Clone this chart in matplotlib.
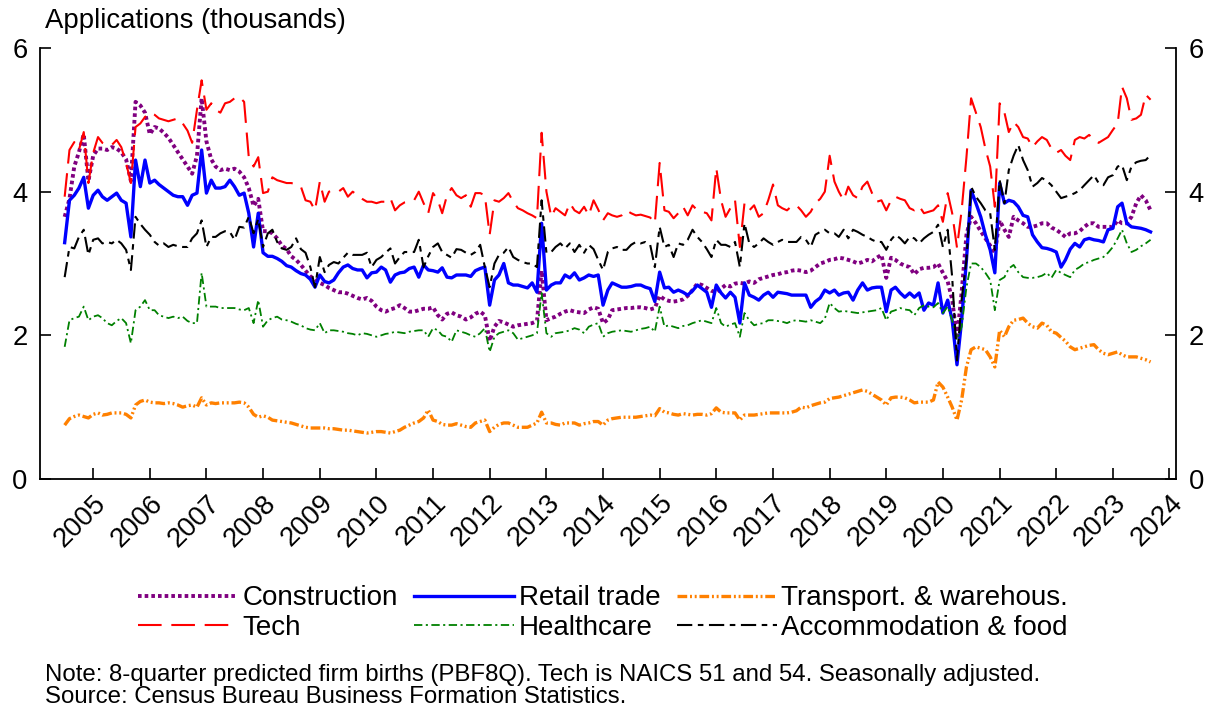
import matplotlib
matplotlib.use("Agg")
import matplotlib.pyplot as plt
import matplotlib.dates as mdates
import pandas as pd

plt.rcParams['font.family'] = ['Liberation Sans', 'DejaVu Sans']
plt.rcParams['lines.scale_dashes'] = False

# monthly values, Jul 2004 .. Sep 2023 (thousands of applications)
construction = [
    3.65, 3.9, 4.35, 4.55, 4.8, 4.15,
    4.5, 4.6, 4.6, 4.58, 4.62, 4.6, 4.55, 4.45, 4.15, 5.25, 5.2, 5.1,
    4.8, 4.9, 4.88, 4.82, 4.75, 4.65, 4.55, 4.45, 4.35, 4.25, 4.5, 5.3,
    4.7, 4.45, 4.35, 4.3, 4.32, 4.3, 4.32, 4.28, 4.2, 4.05, 3.8, 3.9,
    3.45, 3.45, 3.42, 3.35, 3.25, 3.2, 3.1, 3.05, 2.98, 2.9, 2.82, 2.78,
    2.73, 2.7, 2.66, 2.63, 2.6, 2.6, 2.58, 2.55, 2.52, 2.5, 2.52, 2.48,
    2.4, 2.35, 2.33, 2.36, 2.38, 2.42, 2.38, 2.33, 2.33, 2.35, 2.37, 2.37,
    2.39, 2.28, 2.22, 2.3, 2.32, 2.28, 2.26, 2.22, 2.25, 2.3, 2.33, 2.28,
    1.92, 2.12, 2.2, 2.18, 2.15, 2.12, 2.14, 2.15, 2.16, 2.17, 2.2, 2.9,
    2.21, 2.24, 2.26, 2.3, 2.33, 2.35, 2.33, 2.32, 2.31, 2.36, 2.39, 2.37,
    2.17, 2.22, 2.35, 2.36, 2.37, 2.38, 2.38, 2.39, 2.39, 2.38, 2.36, 2.38,
    2.55, 2.5, 2.48, 2.47, 2.48, 2.5, 2.55, 2.63, 2.72, 2.7, 2.66, 2.62,
    2.6, 2.65, 2.7, 2.68, 2.72, 2.73, 2.72, 2.75, 2.73, 2.78, 2.8, 2.82,
    2.84, 2.85, 2.87, 2.88, 2.9, 2.91, 2.9, 2.88, 2.9, 2.95, 3.0, 3.02,
    3.05, 3.06, 3.08, 3.07, 3.05, 3.03, 3.0, 3.02, 3.05, 3.03, 3.08, 3.12,
    2.8, 3.08, 3.05, 3.0, 2.97, 2.95, 2.85, 2.92, 2.94, 2.94, 2.95, 3.0,
    2.87, 2.75, 2.5, 1.95, 2.6, 3.4, 3.65, 3.56, 3.45, 3.35, 3.25, 3.15,
    3.6, 3.47, 3.37, 3.65, 3.6, 3.56, 3.51, 3.51, 3.53, 3.56, 3.56, 3.5,
    3.47, 3.42, 3.37, 3.42, 3.42, 3.45, 3.51, 3.56, 3.56, 3.51, 3.51, 3.51,
    3.51, 3.6, 3.56, 3.56, 3.65, 3.84, 3.95, 3.88, 3.74,
]
retail = [
    3.29, 3.88, 3.95, 4.05, 4.2, 3.77,
    3.95, 4.02, 3.93, 3.88, 3.93, 3.98, 3.88, 3.84, 3.37, 4.44, 4.07, 4.44,
    4.12, 4.16, 4.1, 4.05, 4.0, 3.95, 3.93, 3.93, 3.81, 3.95, 3.98, 4.58,
    3.98, 4.16, 4.05, 4.05, 4.07, 4.16, 4.07, 3.95, 3.98, 3.7, 3.23, 3.7,
    3.15, 3.1, 3.1, 3.07, 3.03, 2.97, 2.95, 2.9, 2.86, 2.84, 2.78, 2.67,
    2.84, 2.75, 2.73, 2.77, 2.87, 2.95, 2.98, 2.93, 2.91, 2.91, 2.8, 2.87,
    2.88, 2.95, 2.91, 2.74, 2.84, 2.87, 2.88, 2.93, 2.95, 2.81, 2.98, 2.91,
    2.9, 2.88, 2.94, 2.81, 2.8, 2.84, 2.84, 2.84, 2.82, 2.9, 2.93, 2.95,
    2.42, 2.77, 2.84, 3.0, 2.73, 2.7, 2.7, 2.68, 2.66, 2.73, 2.6, 3.56,
    2.63, 2.7, 2.73, 2.73, 2.84, 2.8, 2.87, 2.77, 2.8, 2.84, 2.82, 2.84,
    2.42, 2.63, 2.73, 2.7, 2.67, 2.67, 2.68, 2.7, 2.7, 2.67, 2.65, 2.47,
    2.88, 2.66, 2.67, 2.6, 2.63, 2.6, 2.56, 2.62, 2.7, 2.65, 2.6, 2.39,
    2.7, 2.59, 2.52, 2.6, 2.53, 2.17, 2.73, 2.56, 2.53, 2.49, 2.56, 2.6,
    2.53, 2.6, 2.59, 2.58, 2.56, 2.56, 2.56, 2.56, 2.39, 2.47, 2.52, 2.63,
    2.59, 2.63, 2.56, 2.59, 2.6, 2.49, 2.63, 2.73, 2.63, 2.66, 2.67, 2.67,
    2.33, 2.63, 2.67, 2.59, 2.53, 2.59, 2.53, 2.59, 2.35, 2.45, 2.42, 2.73,
    2.31, 2.49, 2.21, 1.59, 2.21, 3.05, 4.02, 3.84, 3.65, 3.4, 3.19, 2.87,
    4.12, 3.84, 3.88, 3.86, 3.79, 3.67, 3.65, 3.4, 3.3, 3.22, 3.21, 3.19,
    3.16, 2.95, 3.05, 3.2, 3.28, 3.23, 3.33, 3.35, 3.33, 3.32, 3.3, 3.47,
    3.49, 3.79, 3.84, 3.56, 3.51, 3.5, 3.49, 3.47, 3.44,
]
transport = [
    0.75, 0.84, 0.87, 0.89, 0.87, 0.85,
    0.9, 0.92, 0.89, 0.9, 0.92, 0.92, 0.92, 0.9, 0.85, 1.03, 1.08, 1.1,
    1.07, 1.06, 1.06, 1.05, 1.06, 1.05, 1.03, 1.0, 1.02, 1.03, 1.0, 1.13,
    1.03, 1.06, 1.05, 1.06, 1.06, 1.06, 1.06, 1.07, 1.06, 1.0, 0.9, 0.86,
    0.88, 0.86, 0.82, 0.81, 0.8, 0.79, 0.78, 0.76, 0.74, 0.72, 0.71, 0.71,
    0.71, 0.71, 0.7, 0.7, 0.69, 0.68, 0.68, 0.67, 0.66, 0.65, 0.64, 0.65,
    0.66, 0.66, 0.65, 0.64, 0.66, 0.68, 0.72, 0.75, 0.78, 0.8, 0.85, 0.96,
    0.82, 0.8, 0.76, 0.75, 0.75, 0.77, 0.75, 0.73, 0.72, 0.78, 0.8, 0.82,
    0.66, 0.72, 0.76, 0.78, 0.78, 0.75, 0.72, 0.72, 0.72, 0.75, 0.78, 0.93,
    0.78, 0.78, 0.76, 0.75, 0.78, 0.78, 0.78, 0.75, 0.77, 0.78, 0.8, 0.8,
    0.75, 0.82, 0.84, 0.85, 0.86, 0.86, 0.86, 0.86, 0.87, 0.88, 0.89, 0.88,
    0.98, 0.93, 0.92, 0.9, 0.89, 0.91, 0.9, 0.89, 0.9, 0.9, 0.89, 0.91,
    0.99, 0.93, 0.92, 0.92, 0.92, 0.82, 0.89, 0.89, 0.89, 0.9, 0.91, 0.92,
    0.92, 0.92, 0.92, 0.92, 0.93, 0.95, 1.0, 0.99, 1.02, 1.04, 1.06, 1.07,
    1.12, 1.13, 1.14, 1.16, 1.18, 1.2, 1.22, 1.24, 1.22, 1.18, 1.14, 1.1,
    1.03, 1.13, 1.14, 1.14, 1.13, 1.1, 1.06, 1.07, 1.07, 1.07, 1.1, 1.35,
    1.28, 1.14, 1.0, 0.82, 1.1, 1.56, 1.8, 1.84, 1.82, 1.8, 1.7, 1.56,
    2.07, 1.98, 2.12, 2.21, 2.22, 2.24, 2.17, 2.12, 2.1, 2.17, 2.14, 2.05,
    2.03, 1.97, 1.92, 1.84, 1.8, 1.82, 1.84, 1.86, 1.87, 1.8, 1.75, 1.73,
    1.75, 1.77, 1.73, 1.7, 1.7, 1.7, 1.68, 1.66, 1.63,
]
tech = [
    3.93, 4.58, 4.69, 4.58, 4.83, 4.12,
    4.54, 4.76, 4.68, 4.65, 4.65, 4.72, 4.62, 4.4, 4.12, 4.9, 4.95, 5.04,
    5.1, 5.07, 5.02, 5.0, 4.98, 5.0, 5.02, 4.95, 4.85, 4.68, 5.14, 5.55,
    5.14, 5.23, 5.14, 5.1, 5.23, 5.25, 5.3, 5.32, 5.25, 4.48, 4.35, 4.48,
    3.98, 4.0, 4.2, 4.16, 4.14, 4.12, 4.12, 4.1, 4.07, 3.88, 3.86, 3.74,
    4.14, 3.86, 4.0, 4.02, 4.0, 4.05, 3.93, 4.0, 3.95, 3.9, 3.86, 3.86,
    3.84, 3.86, 3.86, 3.91, 3.74, 3.81, 3.85, 3.86, 3.88, 4.0, 3.84, 3.7,
    3.98, 3.88, 3.7, 3.95, 4.05, 3.95, 3.91, 3.95, 3.79, 3.98, 3.98, 3.95,
    3.4, 3.88, 3.86, 3.91, 3.98, 3.86, 3.77, 3.74, 3.7, 3.67, 3.63, 4.82,
    4.0, 3.65, 3.77, 3.72, 3.67, 3.84, 3.74, 3.7, 3.79, 3.67, 3.88, 3.75,
    3.6, 3.7, 3.67, 3.65, 3.67, 3.74, 3.7, 3.67, 3.68, 3.66, 3.64, 3.56,
    4.4, 3.74, 3.72, 3.63, 3.7, 3.79, 3.67, 3.81, 3.74, 3.72, 3.7, 3.6,
    4.33, 3.88, 3.65, 3.77, 3.88, 3.23, 3.84, 3.74, 3.81, 3.65, 3.7, 3.88,
    4.1, 3.81, 3.77, 3.74, 3.8, 3.81, 3.74, 3.65, 3.72, 3.84, 3.9, 4.0,
    4.5, 4.14, 4.0, 3.88, 4.07, 3.95, 3.91, 4.07, 4.14, 3.98, 3.86, 3.88,
    3.74, 3.88, 3.93, 3.9, 3.88, 3.77, 3.74, 3.8, 3.7, 3.72, 3.74, 3.81,
    3.58, 3.98, 3.7, 3.22, 3.74, 4.48, 5.3, 5.1, 4.9, 4.6, 4.35, 3.79,
    5.23, 5.1, 4.83, 4.97, 4.9, 4.76, 4.74, 4.62, 4.7, 4.76, 4.72, 4.6,
    4.54, 4.58, 4.5, 4.44, 4.72, 4.76, 4.74, 4.79, 4.72, 4.68, 4.72, 4.76,
    4.86, 4.95, 5.46, 5.3, 5.0, 5.02, 5.07, 5.35, 5.28,
]
healthcare = [
    1.84, 2.21, 2.24, 2.26, 2.4, 2.21,
    2.26, 2.28, 2.24, 2.17, 2.14, 2.2, 2.24, 2.17, 1.89, 2.35, 2.4, 2.49,
    2.35, 2.35, 2.28, 2.26, 2.24, 2.26, 2.24, 2.26, 2.2, 2.17, 2.17, 2.87,
    2.4, 2.4, 2.4, 2.38, 2.38, 2.38, 2.38, 2.36, 2.35, 2.38, 2.17, 2.49,
    2.12, 2.21, 2.24, 2.26, 2.22, 2.21, 2.19, 2.16, 2.14, 2.1, 2.08, 2.07,
    2.17, 2.03, 2.07, 2.07, 2.06, 2.05, 2.03, 2.02, 2.0, 2.03, 2.02, 2.0,
    1.98, 2.0, 2.02, 2.03, 2.05, 2.04, 2.03, 2.05, 2.06, 2.07, 2.07, 1.98,
    2.1, 2.07, 2.0, 1.98, 1.91, 2.07, 2.05, 2.03, 2.0, 1.98, 2.03, 2.1,
    1.77, 1.98, 2.03, 2.05, 2.07, 2.03, 1.94, 1.96, 1.98, 2.0, 2.03, 2.59,
    2.03, 1.98, 2.03, 2.04, 2.05, 2.07, 2.1, 2.08, 2.03, 2.12, 2.15, 2.17,
    1.98, 2.03, 2.05, 2.06, 2.07, 2.06, 2.05, 2.07, 2.09, 2.1, 2.12, 2.05,
    2.4, 2.12, 2.14, 2.12, 2.1, 2.13, 2.14, 2.17, 2.19, 2.21, 2.19, 2.17,
    2.38, 2.17, 2.12, 2.15, 2.17, 1.98, 2.31, 2.21, 2.14, 2.16, 2.17, 2.21,
    2.21, 2.2, 2.19, 2.17, 2.2, 2.21, 2.2, 2.19, 2.21, 2.19, 2.17, 2.23,
    2.45, 2.38, 2.33, 2.34, 2.33, 2.32, 2.31, 2.32, 2.33, 2.34, 2.35, 2.38,
    2.21, 2.33, 2.35, 2.38, 2.36, 2.35, 2.28, 2.38, 2.42, 2.4, 2.39, 2.45,
    2.31, 2.4, 2.21, 1.94, 2.12, 2.67, 3.0, 3.0, 2.95, 2.87, 2.77, 2.35,
    2.77, 2.81, 2.93, 2.98, 2.88, 2.81, 2.8, 2.8, 2.81, 2.83, 2.87, 2.8,
    2.91, 2.87, 2.84, 2.81, 2.91, 2.95, 3.0, 3.02, 3.05, 3.07, 3.09, 3.15,
    3.23, 3.35, 3.47, 3.28, 3.16, 3.19, 3.24, 3.28, 3.33,
]
accommodation = [
    2.81, 3.23, 3.21, 3.37, 3.47, 3.12,
    3.33, 3.35, 3.28, 3.3, 3.28, 3.33, 3.28, 3.19, 2.91, 3.65, 3.55, 3.47,
    3.4, 3.3, 3.25, 3.28, 3.23, 3.26, 3.24, 3.23, 3.23, 3.35, 3.42, 3.6,
    3.23, 3.37, 3.37, 3.42, 3.45, 3.44, 3.33, 3.51, 3.5, 3.65, 3.42, 3.62,
    3.23, 3.42, 3.47, 3.3, 3.21, 3.19, 3.23, 3.35, 3.2, 3.15, 2.95, 2.67,
    3.09, 2.88, 2.98, 3.02, 3.0, 3.08, 3.15, 3.12, 3.12, 3.12, 3.15, 2.95,
    3.05, 3.09, 3.15, 3.21, 3.0, 3.09, 3.16, 3.16, 3.16, 3.33, 2.95, 3.1,
    3.23, 3.28, 3.16, 3.12, 3.08, 3.2, 3.19, 3.15, 3.12, 3.16, 3.26, 2.95,
    2.67, 3.0, 3.12, 3.15, 3.23, 3.09, 3.05, 3.02, 3.0, 3.0, 2.95, 3.88,
    3.15, 3.16, 3.23, 3.28, 3.21, 3.28, 3.16, 3.26, 3.15, 3.26, 3.2, 3.05,
    2.91, 3.16, 3.21, 3.23, 3.19, 3.19, 3.26, 3.3, 3.28, 3.3, 3.26, 2.95,
    3.51, 3.23, 3.26, 3.09, 3.28, 3.26, 3.33, 3.47, 3.37, 3.3, 3.2, 3.09,
    3.33, 3.26, 3.26, 3.23, 3.3, 2.95, 3.56, 3.28, 3.23, 3.28, 3.35, 3.3,
    3.26, 3.3, 3.33, 3.3, 3.3, 3.3, 3.37, 3.33, 3.23, 3.4, 3.44, 3.47,
    3.42, 3.42, 3.37, 3.47, 3.35, 3.47, 3.44, 3.4, 3.37, 3.33, 3.3, 3.3,
    3.19, 3.33, 3.4, 3.35, 3.28, 3.37, 3.35, 3.28, 3.35, 3.4, 3.44, 3.54,
    3.23, 3.47, 2.81, 1.65, 2.5, 3.05, 4.07, 3.93, 3.84, 3.74, 3.7, 3.19,
    4.16, 3.84, 4.3, 4.5, 4.65, 4.44, 4.3, 4.07, 4.12, 4.19, 4.15, 4.09,
    4.0, 3.91, 3.93, 3.95, 3.98, 4.02, 4.09, 4.16, 4.23, 4.12, 4.09, 4.2,
    4.23, 4.35, 4.37, 4.16, 4.35, 4.41, 4.43, 4.44, 4.51,
]

labels = ["Construction", "Retail trade", "Transport. & warehous.",
          "Tech", "Healthcare", "Accommodation & food"]
year_ticks = list(range(2005, 2025))

months = pd.date_range("2004-07-01", periods=len(tech), freq="MS")

fig = plt.figure(figsize=(12.21, 7.13), dpi=100)
ax = fig.add_axes([40 / 1221, 1 - 479 / 713, 1136 / 1221, 431 / 713])

h_con, = ax.plot(months, construction, color="#800080", lw=2.8, dashes=(2.6, 2.2),
                 dash_capstyle="butt")
h_ret, = ax.plot(months, retail, color="#0000FF", lw=2.4)
h_tra, = ax.plot(months, transport, color="#FF8000", lw=2.4,
                 dashes=(7, 2, 1.4, 2, 1.4, 2))
h_tec, = ax.plot(months, tech, color="#FF0000", lw=1.5, dashes=(17, 7))
h_hea, = ax.plot(months, healthcare, color="#008000", lw=1.3, dashes=(6, 2.5, 1.5, 2.5))
h_acc, = ax.plot(months, accommodation, color="black", lw=1.5, dashes=(11, 4, 4, 4))

ax.set_ylim(0, 6)
ax.set_yticks([0, 2, 4, 6])
ax.set_xlim(pd.Timestamp("2004-01-24"), pd.Timestamp("2024-02-12"))
ax.set_xticks([pd.Timestamp(f"{y}-01-01") for y in year_ticks])
ax.xaxis.set_major_formatter(mdates.DateFormatter("%Y"))

ax.spines["top"].set_visible(False)
for s in ["left", "right", "bottom"]:
    ax.spines[s].set_linewidth(1.3)
ax.tick_params(axis="both", direction="in", length=8, width=1.2, labelsize=19.7)
ax.tick_params(axis="y", right=True, labelright=True, pad=9)
ax.tick_params(axis="x", pad=8)
for lab in ax.get_xticklabels():
    lab.set_rotation(45)
    lab.set_ha("right")
    lab.set_rotation_mode("anchor")

fig.text(45 / 1221, 1 - 28 / 713, "Applications (thousands)", fontsize=19.8,
         va="baseline", ha="left")

fig.legend([h_con, h_tec, h_ret, h_hea, h_tra, h_acc],
           [labels[0], labels[3], labels[1], labels[4], labels[2], labels[5]],
           ncol=3, loc="center", bbox_to_anchor=(603 / 1221, 1 - 613 / 713),
           frameon=False, fontsize=20, handlelength=3.6, handletextpad=0.15,
           columnspacing=0.6, labelspacing=0.12, borderpad=0)

fig.text(45 / 1221, 1 - 681 / 713,
         "Note: 8-quarter predicted firm births (PBF8Q). Tech is NAICS 51 and 54. Seasonally adjusted.",
         fontsize=17.3, va="baseline")
fig.text(45 / 1221, 1 - 703 / 713,
         "Source: Census Bureau Business Formation Statistics.",
         fontsize=17.3, va="baseline")

fig.savefig("out.png", dpi=100)
